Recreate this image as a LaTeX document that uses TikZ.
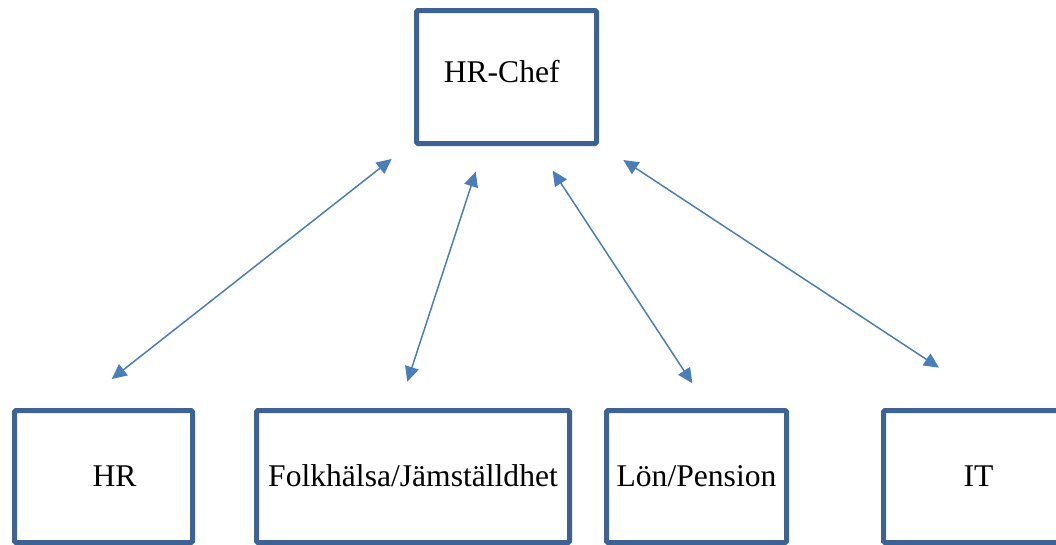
\documentclass[tikz,border=0pt]{standalone}
\usepackage{fontspec}
\setmainfont{Liberation Serif}
\usepackage{xcolor}
\definecolor{orgBorder}{HTML}{3E6293}
\definecolor{orgArrow}{HTML}{4A7EBB}
\usepackage{tikz}
\usetikzlibrary{arrows.meta,positioning}
\tikzset{
    unit/.style={
        draw=orgBorder,
        fill=white,
        rectangle,
        rounded corners=1.5pt,
        line width=5pt,
        align=center,
        inner sep=0pt,
        minimum height=132pt,
        minimum width=178pt,
        text height=20.9pt,
        text depth=0pt,
        font=\fontsize{31.6}{38}\selectfont
    },
    link/.style={
        <->,
        >={Triangle[length=15pt,width=14pt]},
        line width=1.5pt,
        color=orgArrow
    }
}

\begin{document}
\begin{tikzpicture}[x=1pt,y=-1pt]
    \clip (0,0) rectangle (1056,544);
    \node[unit, minimum width=180pt, minimum height=133pt, text depth=10pt] (chef) at (506.5,77) {HR-Chef\hspace*{9.6pt}};
    \node[unit] (hr) at (103.5,476.5) {\hspace*{22pt}HR};
    \node[unit, minimum width=313pt, right=59pt of hr] (folk) {Folkhälsa/Jämställdhet};
    \node[unit, minimum width=180pt, right=32pt of folk] (lon) {Lön/Pension};
    \node[unit, minimum width=190pt, right=92pt of lon] (it) {IT};

    \draw[link, shorten <=21pt, shorten >=46.9pt] ([xshift=-98.3pt]chef.south) -- ([xshift=-28.7pt]hr.north);
    \draw[link, shorten <=27pt, shorten >=27.7pt] ([xshift=-22.4pt]chef.south) -- ([xshift=-14.3pt]folk.north);
    \draw[link, shorten <=29.5pt, shorten >=29.5pt] ([xshift=30pt]chef.south) -- ([xshift=12pt]lon.north);
    \draw[link, shorten <=25.5pt, shorten >=73.4pt] ([xshift=95.5pt]chef.south) -- ([xshift=21.8pt]it.north);
\end{tikzpicture}
\end{document}
